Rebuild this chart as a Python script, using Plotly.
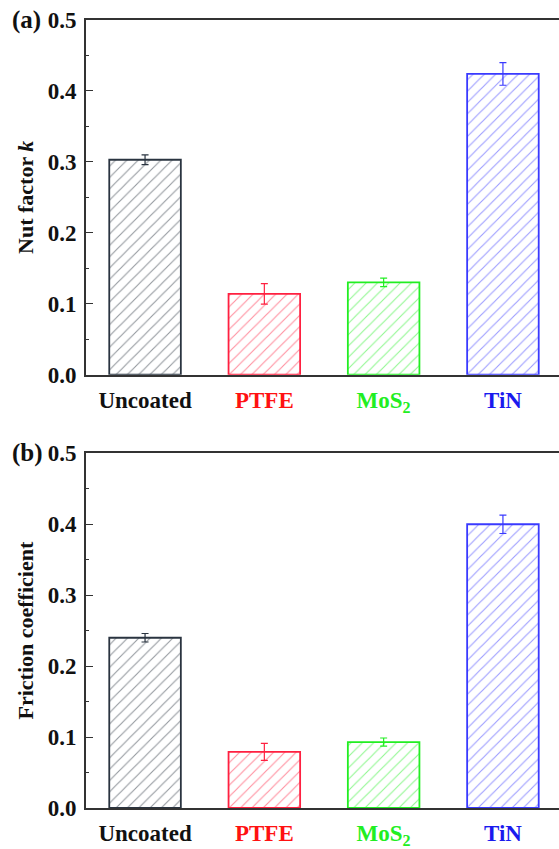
import plotly.graph_objects as go
from plotly.subplots import make_subplots

categories = ["Uncoated", "PTFE", "MoS<sub>2</sub>", "TiN"]
nut_factor = [0.303, 0.114, 0.130, 0.424]
nut_err = [0.007, 0.0145, 0.006, 0.016]
friction = [0.240, 0.079, 0.093, 0.400]
friction_err = [0.006, 0.012, 0.0057, 0.013]
bar_colors = ["#2a3440", "#ff2040", "#22ee22", "#3a3aff"]
label_colors = ["#111111", "#ff1111", "#22ee22", "#1a1aee"]
y_ticks = [0.0, 0.1, 0.2, 0.3, 0.4, 0.5]

FONT = "Liberation Serif, Times New Roman, serif"

fig = make_subplots(rows=2, cols=1, vertical_spacing=0.0)

xs = list(range(len(categories)))
for row, vals, errs in [(1, nut_factor, nut_err), (2, friction, friction_err)]:
    for i in xs:
        fig.add_trace(go.Bar(
            x=[i], y=[vals[i]], width=0.6,
            marker=dict(color="white",
                        line=dict(color=bar_colors[i], width=1.8),
                        pattern=dict(shape="/", fgcolor=bar_colors[i], bgcolor="white",
                                     size=8, solidity=0.14)),
            error_y=dict(type="data", array=[errs[i]], visible=True,
                         color=bar_colors[i], thickness=1.2, width=3.5),
            showlegend=False,
        ), row=row, col=1)

ticktext = [f"<span style='color:{c}'>{t}</span>" for t, c in zip(categories, label_colors)]

for ax_x, ax_y, dom in [("xaxis", "yaxis", [0.5499, 1.0]), ("xaxis2", "yaxis2", [0.0, 0.4501])]:
    fig.layout[ax_x].update(
        range=[-0.495, 3.47], tickvals=xs, ticktext=ticktext,
        showline=True, linecolor="#333333", linewidth=1.6, mirror=True,
        ticks="", showgrid=False, zeroline=False,
        tickfont=dict(family=FONT, size=23, color="#111111", weight="bold"),
        ticklabelstandoff=4,
    )
    fig.layout[ax_y].update(
        domain=dom, range=[0, 0.5], tickvals=y_ticks, tickformat=".1f",
        showline=True, linecolor="#333333", linewidth=1.6, mirror=False,
        ticks="inside", ticklen=7, tickwidth=1.3, tickcolor="#333333",
        minor=dict(ticks="inside", ticklen=3, tickwidth=1.2, tickcolor="#333333", dtick=0.05),
        showgrid=False, zeroline=False,
        tickfont=dict(family=FONT, size=23, color="#111111", weight="bold"),
        ticklabelstandoff=3,
    )

fig.layout.yaxis.title = dict(text="<b>Nut factor <i>k</i></b>", font=dict(family=FONT, size=22, color="#111111"), standoff=8)
fig.layout.yaxis2.title = dict(text="<b>Friction coefficient</b>", font=dict(family=FONT, size=22, color="#111111"), standoff=8)

fig.add_annotation(text="<b>(a)</b>", xref="paper", yref="paper", x=-0.16, y=1.0,
                   xanchor="left", yanchor="middle", showarrow=False,
                   font=dict(family=FONT, size=25, color="#111111"))
fig.add_annotation(text="<b>(b)</b>", xref="paper", yref="paper", x=-0.16, y=0.4501,
                   xanchor="left", yanchor="middle", showarrow=False,
                   font=dict(family=FONT, size=25, color="#111111"))

fig.update_layout(
    width=559, height=849,
    margin=dict(l=86, r=0, t=20, b=38),
    plot_bgcolor="white", paper_bgcolor="white",
    bargap=0.4,
)

fig.write_html("out.html")
